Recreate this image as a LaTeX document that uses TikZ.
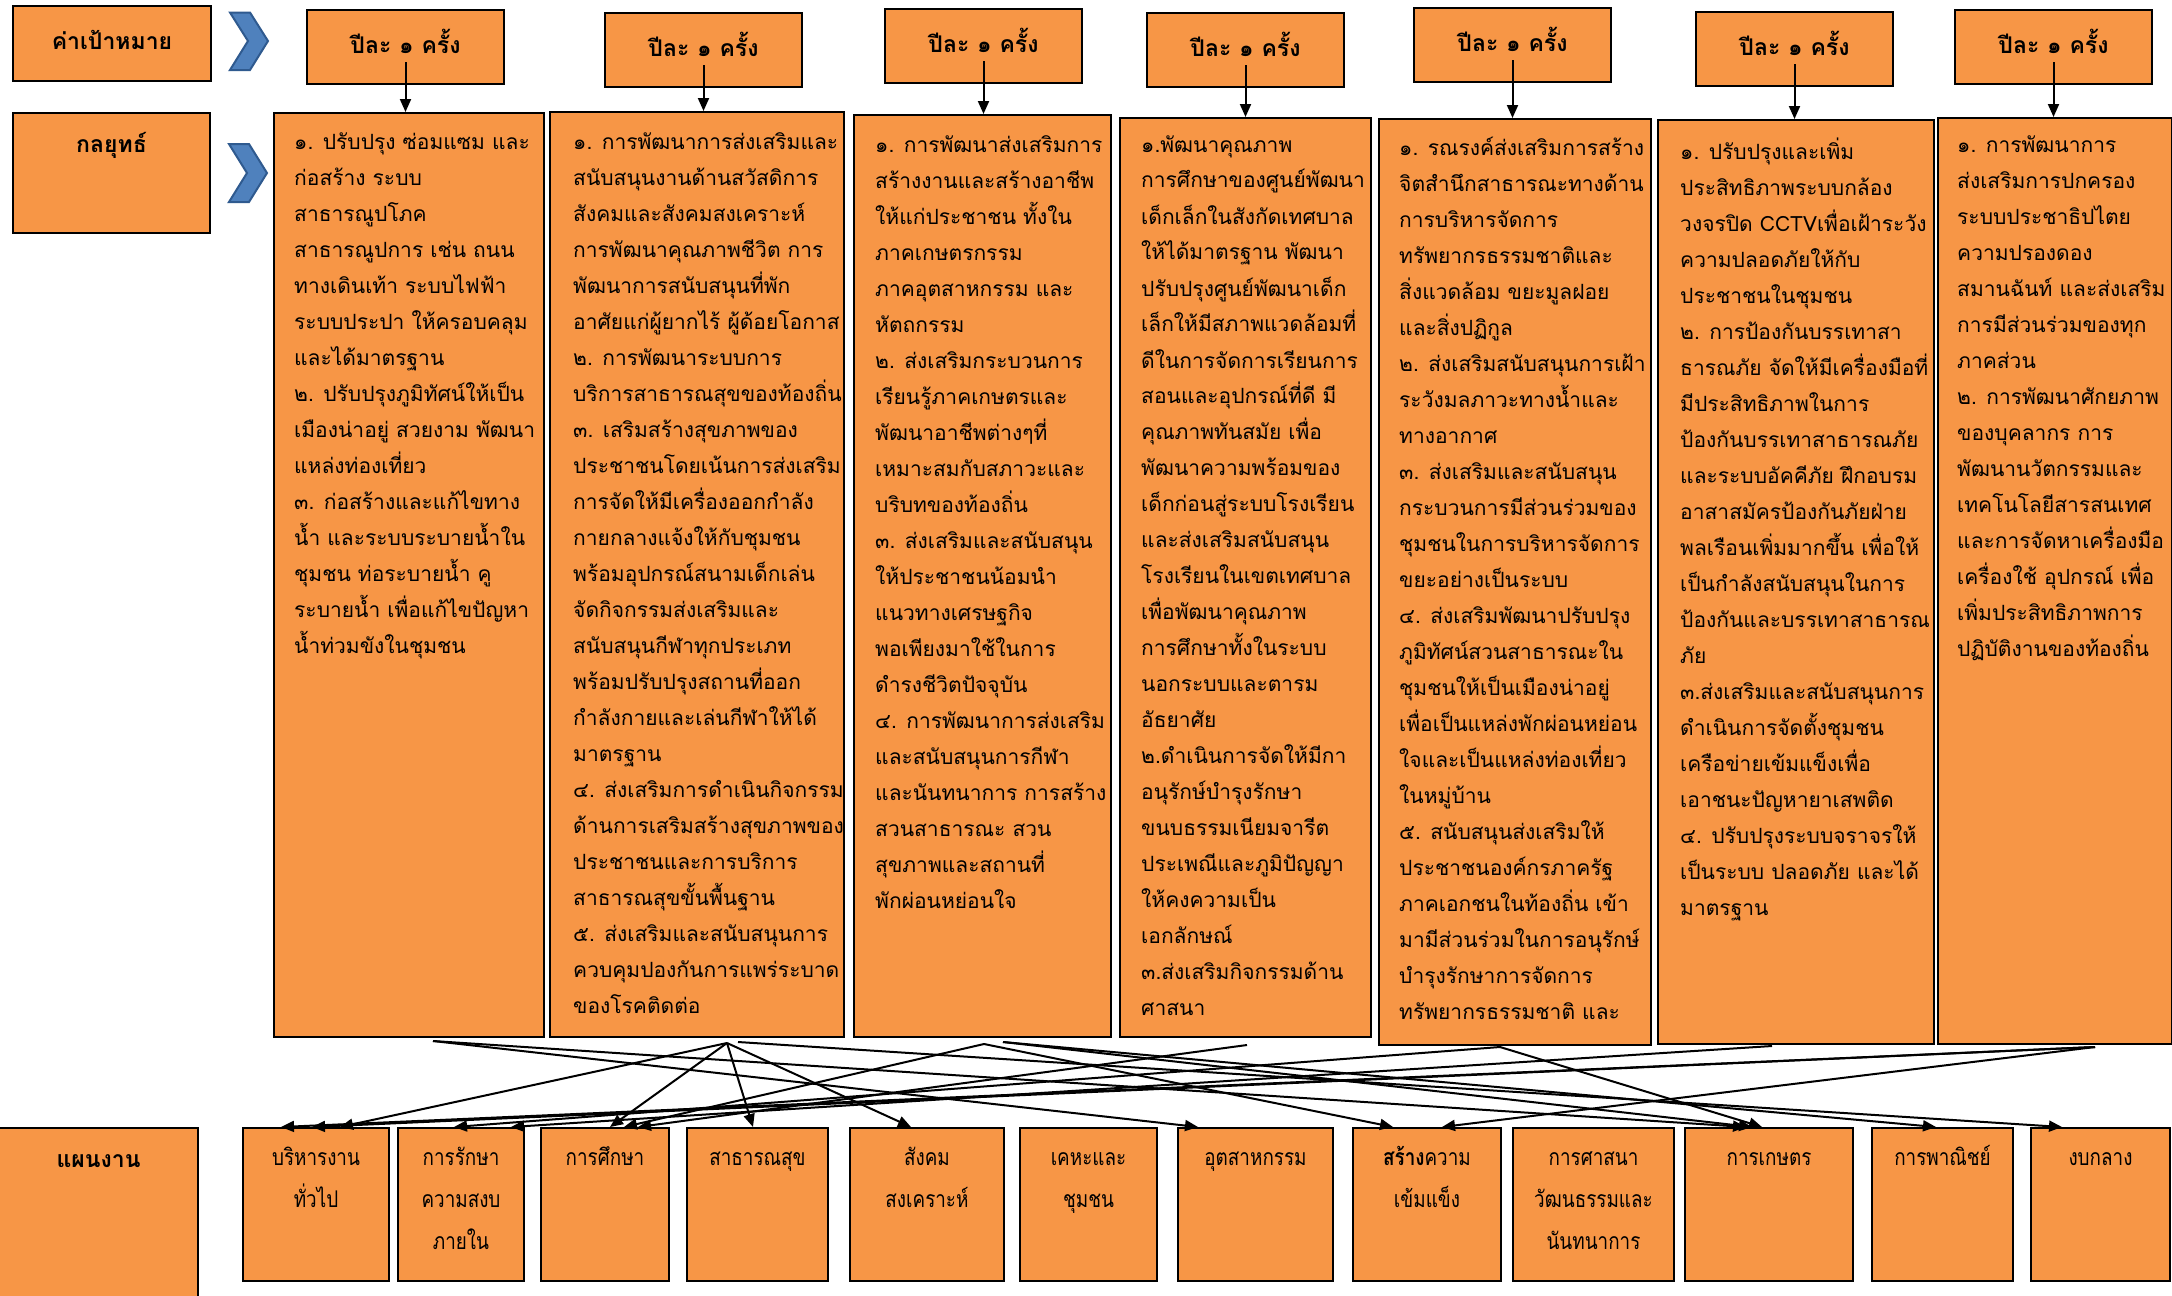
\documentclass[tikz,border=0pt]{standalone}
\usepackage{fontspec}
\newfontfamily\thaifont[Script=Thai]{Loma}
\newfontfamily\thainarrow[Script=Thai,FakeStretch=0.82]{Loma}
\usepackage{xcolor}
\usetikzlibrary{calc, arrows.meta, positioning}
\definecolor{boxorange}{HTML}{F79646}
\definecolor{chevblue}{HTML}{4F81BD}
\definecolor{chevedge}{HTML}{2F5A8F}

\begin{document}
\begin{tikzpicture}[x=1pt, y=-1pt,
    box/.style={draw=black, line width=2pt, fill=boxorange, inner sep=0pt, anchor=north west},
    goaltext/.style={font=\thaifont\bfseries\fontsize{23}{28}\selectfont},
    goalmid/.style={goaltext, text height=16pt, text depth=4pt},
    strattext/.style={font=\thaifont\fontsize{21}{36}\selectfont, align=left, anchor=north west, inner sep=0pt},
    plantext/.style={font=\thainarrow\fontsize{23}{42}\selectfont, align=center, inner sep=0pt},
    link/.style={line width=2pt, -{Triangle[length=13pt,width=11pt]}},
    chev/.style={fill=chevblue, draw=chevedge, line width=2pt, line join=miter}]

        \fill[white] (0,0) rectangle (2172,1296);
        \useasboundingbox (0,0) rectangle (2172,1296);

        \node[box, goalmid, minimum width=198pt, minimum height=75pt] (kv) at (12,5) {ค่าเป้าหมาย};
        \node[box, minimum width=197pt, minimum height=120pt] (kl) at (12,112) {};
        \node[goaltext, below=17pt of kl.north] (klt) {กลยุทธ์};
        \node[box, minimum width=199pt, minimum height=175pt] (pl) at (-2,1127) {};
        \node[goaltext, below=24pt of pl.north] (plt) {แผนงาน};

        \draw[chev] (230,12.5) -- (250,12.5) -- (268,41) -- (250,70) -- (230,70) -- (248,41) -- cycle;
        \draw[chev] (229,144) -- (249,144) -- (267,173) -- (249,202) -- (229,202) -- (247,173) -- cycle;

        \foreach \gx/\gy [count=\i] in {306/9, 604/12, 884/8, 1146/12, 1413/7, 1695/11, 1954/9}
            \node[box, goalmid, minimum width=197pt, minimum height=74pt] (g\i) at (\gx,\gy) {ปีละ ๑ ครั้ง};

        \node[box, minimum width=270pt, minimum height=924pt] (s1) at (273,112) {};
        \node[box, minimum width=294pt, minimum height=925pt] (s2) at (549,111) {};
        \node[box, minimum width=257pt, minimum height=922pt] (s3) at (853,114) {};
        \node[box, minimum width=251pt, minimum height=919pt] (s4) at (1119,117) {};
        \node[box, minimum width=272pt, minimum height=926pt] (s5) at (1378,118) {};
        \node[box, minimum width=276pt, minimum height=924pt] (s6) at (1657,119) {};
        \node[box, minimum width=234pt, minimum height=926pt] (s7) at (1937,117) {};

        \foreach \i in {1,...,7}
            \draw[link] ([yshift=-15pt]g\i.center) -- (g\i.center |- s\i.north);

        \node[strattext] (s1t) at ($(s1.north west)+(21,21)$) {๑. ปรับปรุง ซ่อมแซม และ\\
            ก่อสร้าง ระบบ\\
            สาธารณูปโภค\\
            สาธารณูปการ เช่น ถนน\\
            ทางเดินเท้า ระบบไฟฟ้า\\
            ระบบประปา ให้ครอบคลุม\\
            และได้มาตรฐาน\\
            ๒. ปรับปรุงภูมิทัศน์ให้เป็น\\
            เมืองน่าอยู่ สวยงาม พัฒนา\\
            แหล่งท่องเที่ยว\\
            ๓. ก่อสร้างและแก้ไขทาง\\
            น้ำ และระบบระบายน้ำใน\\
            ชุมชน ท่อระบายน้ำ คู\\
            ระบายน้ำ เพื่อแก้ไขปัญหา\\
            น้ำท่วมขังในชุมชน};

        \node[strattext] (s2t) at ($(s2.north west)+(24,21)$) {๑. การพัฒนาการส่งเสริมและ\\
            สนับสนุนงานด้านสวัสดิการ\\
            สังคมและสังคมสงเคราะห์\\
            การพัฒนาคุณภาพชีวิต การ\\
            พัฒนาการสนับสนุนที่พัก\\
            อาศัยแก่ผู้ยากไร้ ผู้ด้อยโอกาส\\
            ๒. การพัฒนาระบบการ\\
            บริการสาธารณสุขของท้องถิ่น\\
            ๓. เสริมสร้างสุขภาพของ\\
            ประชาชนโดยเน้นการส่งเสริม\\
            การจัดให้มีเครื่องออกกำลัง\\
            กายกลางแจ้งให้กับชุมชน\\
            พร้อมอุปกรณ์สนามเด็กเล่น\\
            จัดกิจกรรมส่งเสริมและ\\
            สนับสนุนกีฬาทุกประเภท\\
            พร้อมปรับปรุงสถานที่ออก\\
            กำลังกายและเล่นกีฬาให้ได้\\
            มาตรฐาน\\
            ๔. ส่งเสริมการดำเนินกิจกรรม\\
            ด้านการเสริมสร้างสุขภาพของ\\
            ประชาชนและการบริการ\\
            สาธารณสุขขั้นพื้นฐาน\\
            ๕. ส่งเสริมและสนับสนุนการ\\
            ควบคุมปองกันการแพร่ระบาด\\
            ของโรคติดต่อ};

        \node[strattext] (s3t) at ($(s3.north west)+(22,21)$) {๑. การพัฒนาส่งเสริมการ\\
            สร้างงานและสร้างอาชีพ\\
            ให้แก่ประชาชน ทั้งใน\\
            ภาคเกษตรกรรม\\
            ภาคอุตสาหกรรม และ\\
            หัตถกรรม\\
            ๒. ส่งเสริมกระบวนการ\\
            เรียนรู้ภาคเกษตรและ\\
            พัฒนาอาชีพต่างๆที่\\
            เหมาะสมกับสภาวะและ\\
            บริบทของท้องถิ่น\\
            ๓. ส่งเสริมและสนับสนุน\\
            ให้ประชาชนน้อมนำ\\
            แนวทางเศรษฐกิจ\\
            พอเพียงมาใช้ในการ\\
            ดำรงชีวิตปัจจุบัน\\
            ๔. การพัฒนาการส่งเสริม\\
            และสนับสนุนการกีฬา\\
            และนันทนาการ การสร้าง\\
            สวนสาธารณะ สวน\\
            สุขภาพและสถานที่\\
            พักผ่อนหย่อนใจ};

        \node[strattext] (s4t) at ($(s4.north west)+(22,18)$) {๑.พัฒนาคุณภาพ\\
            การศึกษาของศูนย์พัฒนา\\
            เด็กเล็กในสังกัดเทศบาล\\
            ให้ได้มาตรฐาน พัฒนา\\
            ปรับปรุงศูนย์พัฒนาเด็ก\\
            เล็กให้มีสภาพแวดล้อมที่\\
            ดีในการจัดการเรียนการ\\
            สอนและอุปกรณ์ที่ดี มี\\
            คุณภาพทันสมัย เพื่อ\\
            พัฒนาความพร้อมของ\\
            เด็กก่อนสู่ระบบโรงเรียน\\
            และส่งเสริมสนับสนุน\\
            โรงเรียนในเขตเทศบาล\\
            เพื่อพัฒนาคุณภาพ\\
            การศึกษาทั้งในระบบ\\
            นอกระบบและตารม\\
            อัธยาศัย\\
            ๒.ดำเนินการจัดให้มีกา\\
            อนุรักษ์บำรุงรักษา\\
            ขนบธรรมเนียมจารีต\\
            ประเพณีและภูมิปัญญา\\
            ให้คงความเป็น\\
            เอกลักษณ์\\
            ๓.ส่งเสริมกิจกรรมด้าน\\
            ศาสนา};

        \node[strattext] (s5t) at ($(s5.north west)+(21,19)$) {๑. รณรงค์ส่งเสริมการสร้าง\\
            จิตสำนึกสาธารณะทางด้าน\\
            การบริหารจัดการ\\
            ทรัพยากรธรรมชาติและ\\
            สิ่งแวดล้อม ขยะมูลฝอย\\
            และสิ่งปฏิกูล\\
            ๒. ส่งเสริมสนับสนุนการเฝ้า\\
            ระวังมลภาวะทางน้ำและ\\
            ทางอากาศ\\
            ๓. ส่งเสริมและสนับสนุน\\
            กระบวนการมีส่วนร่วมของ\\
            ชุมชนในการบริหารจัดการ\\
            ขยะอย่างเป็นระบบ\\
            ๔. ส่งเสริมพัฒนาปรับปรุง\\
            ภูมิทัศน์สวนสาธารณะใน\\
            ชุมชนให้เป็นเมืองน่าอยู่\\
            เพื่อเป็นแหล่งพักผ่อนหย่อน\\
            ใจและเป็นแหล่งท่องเที่ยว\\
            ในหมู่บ้าน\\
            ๕. สนับสนุนส่งเสริมให้\\
            ประชาชนองค์กรภาครัฐ\\
            ภาคเอกชนในท้องถิ่น เข้า\\
            มามีส่วนร่วมในการอนุรักษ์\\
            บำรุงรักษาการจัดการ\\
            ทรัพยากรธรรมชาติ และ};

        \node[strattext] (s6t) at ($(s6.north west)+(23,19)$) {๑. ปรับปรุงและเพิ่ม\\
            ประสิทธิภาพระบบกล้อง\\
            วงจรปิด CCTVเพื่อเฝ้าระวัง\\
            ความปลอดภัยให้กับ\\
            ประชาชนในชุมชน\\
            ๒. การป้องกันบรรเทาสา\\
            ธารณภัย จัดให้มีเครื่องมือที่\\
            มีประสิทธิภาพในการ\\
            ป้องกันบรรเทาสาธารณภัย\\
            และระบบอัคคีภัย ฝึกอบรม\\
            อาสาสมัครป้องกันภัยฝ่าย\\
            พลเรือนเพิ่มมากขึ้น เพื่อให้\\
            เป็นกำลังสนับสนุนในการ\\
            ป้องกันและบรรเทาสาธารณ\\
            ภัย\\
            ๓.ส่งเสริมและสนับสนุนการ\\
            ดำเนินการจัดตั้งชุมชน\\
            เครือข่ายเข้มแข็งเพื่อ\\
            เอาชนะปัญหายาเสพติด\\
            ๔. ปรับปรุงระบบจราจรให้\\
            เป็นระบบ ปลอดภัย และได้\\
            มาตรฐาน};

        \node[strattext] (s7t) at ($(s7.north west)+(20,19)$) {๑. การพัฒนาการ\\
            ส่งเสริมการปกครอง\\
            ระบบประชาธิปไตย\\
            ความปรองดอง\\
            สมานฉันท์ และส่งเสริม\\
            การมีส่วนร่วมของทุก\\
            ภาคส่วน\\
            ๒. การพัฒนาศักยภาพ\\
            ของบุคลากร การ\\
            พัฒนานวัตกรรมและ\\
            เทคโนโลยีสารสนเทศ\\
            และการจัดหาเครื่องมือ\\
            เครื่องใช้ อุปกรณ์ เพื่อ\\
            เพิ่มประสิทธิภาพการ\\
            ปฏิบัติงานของท้องถิ่น};

        \foreach \px/\pw/\ptxt [count=\i] in {
                242/146/{บริหารงาน\\ทั่วไป},
                397/126/{การรักษา\\ความสงบ\\ภายใน},
                540/128/{การศึกษา},
                686/141/{สาธารณสุข},
                849/154/{สังคม\\สงเคราะห์},
                1019/137/{เคหะและ\\ชุมชน},
                1177/155/{อุตสาหกรรม},
                1352/148/{{\bfseries สร้าง}ความ\\เข้มแข็ง},
                1512/161/{การศาสนา\\วัฒนธรรมและ\\นันทนาการ},
                1684/168/{การเกษตร},
                1871/141/{การพาณิชย์},
                2030/139/{งบกลาง}} {
            \node[box, minimum width=\pw pt, minimum height=153pt] (p\i) at (\px,1127) {};
            \node[plantext, below=17pt of p\i.north] (p\i t) {\rule{0pt}{21pt}\ptxt};
        }

        \coordinate (h1) at ($(s1.south west)+(160,3)$);
        \coordinate (h2) at ($(s2.south west)+(178,5)$);
        \coordinate (h2b) at ($(s2.south west)+(189,4)$);
        \coordinate (h3) at ($(s3.south west)+(131,6)$);
        \coordinate (h3b) at ($(s3.south west)+(150,4)$);
        \coordinate (h4) at ($(s4.south west)+(128,7)$);
        \coordinate (h5) at ($(s5.south west)+(122,1)$);
        \coordinate (h6) at ($(s6.south west)+(115,1)$);
        \coordinate (h7) at ($(s7.south west)+(158,2)$);

        \draw[link] (h1) -- ($(p7.north west)+(21,0)$);
        \draw[link] (h1) -- ($(p10.north west)+(62,0)$);
        \draw[link] (h2) -- ($(p1.north west)+(98,0)$);
        \draw[link] (h2) -- ($(p3.north west)+(70,0)$);
        \draw[link] (h2) -- ($(p4.north west)+(67,0)$);
        \draw[link] (h2) -- ($(p5.north west)+(62,0)$);
        \draw[link] (h2b) -- ($(p12.north west)+(32,0)$);
        \draw[link] (h3) -- ($(p3.north west)+(84,0)$);
        \draw[link] (h3) -- ($(p8.north west)+(41,0)$);
        \draw[link] (h3b) -- ($(p10.north west)+(68,0)$);
        \draw[link] (h3b) -- ($(p11.north west)+(65,0)$);
        \draw[link] (h4) -- ($(p3.north west)+(98,0)$);
        \draw[link] (h5) -- ($(p10.north west)+(78,0)$);
        \draw[link] (h5) -- ($(p2.north west)+(57,0)$);
        \draw[link] (h6) -- ($(p2.north west)+(114,0)$);
        \draw[link] (h7) -- ($(p1.north west)+(39,0)$);
        \draw[link] (h7) -- ($(p1.north west)+(70,0)$);
        \draw[link] (h7) -- ($(p8.north west)+(90,0)$);
    \end{tikzpicture}
\end{document}
